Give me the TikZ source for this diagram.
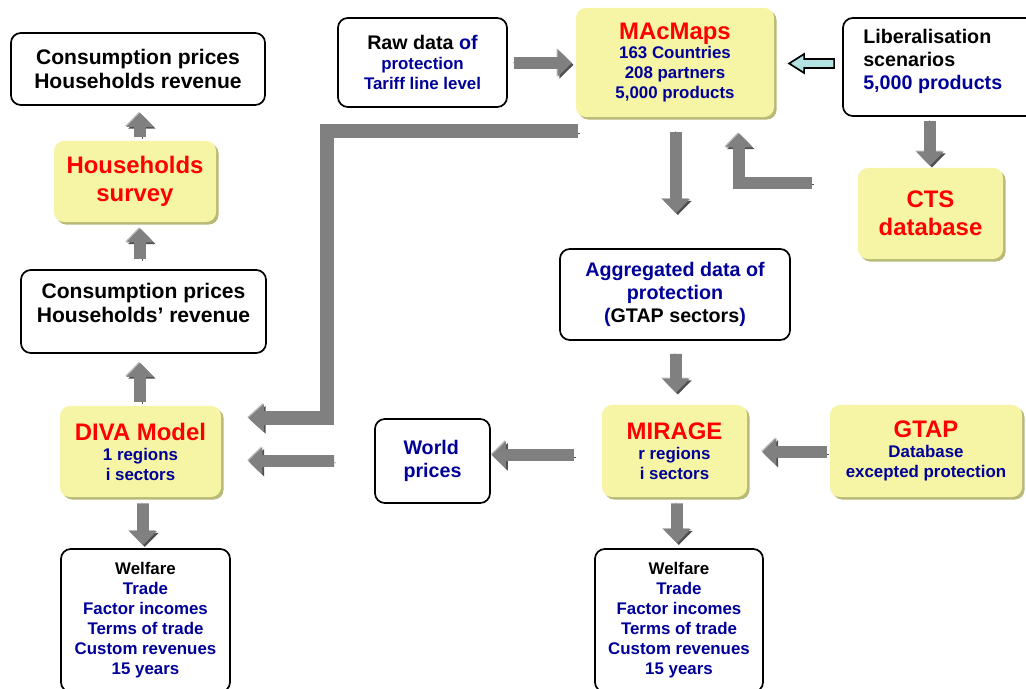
\documentclass[tikz,border=0pt]{standalone}
\usepackage{fontspec}
\setmainfont{Liberation Sans}
\usetikzlibrary{arrows.meta,calc,shadows}

\definecolor{boxyellow}{RGB}{245,245,165}
\definecolor{boxshade}{RGB}{185,185,120}
\definecolor{titlered}{RGB}{255,0,0}
\definecolor{textblue}{RGB}{0,0,153}
\definecolor{arrowgray}{RGB}{128,128,128}
\definecolor{arrowshade}{RGB}{80,80,80}
\definecolor{arrowlight}{RGB}{185,185,185}
\definecolor{arrowcyan}{RGB}{180,225,225}

\newcommand\titlesize{\fontsize{17}{19.6}\selectfont}
\newcommand\headsize{\fontsize{15}{17.7}\selectfont}
\newcommand\midsize{\fontsize{14}{16.4}\selectfont}
\newcommand\subsize{\fontsize{12}{14.2}\selectfont}

\tikzset{
  plainbox/.style={draw, line width=1.2pt, rounded corners=7pt, fill=white, align=center, inner sep=0pt},
  yellowbox/.style={fill=boxyellow, rounded corners=7pt, align=center, inner sep=0pt,
    drop shadow={shadow xshift=1.8pt, shadow yshift=-1.8pt, fill=boxshade, opacity=1}},
  boxtext/.style={font=\bfseries\subsize, text=textblue},
  redtitle/.style={font=\bfseries\titlesize, text=titlered},
  blockarrow/.style={line width=8.5pt, draw=arrowgray, -{Triangle[length=10pt,width=19pt]},
    preaction={draw=arrowshade, transform canvas={xshift=1.3pt,yshift=-1.3pt}},
    preaction={draw=arrowlight, transform canvas={xshift=-0.7pt,yshift=0.7pt}}},
  bigarrow/.style={line width=10pt, -{Triangle[length=11pt,width=19pt]}},
  cyanarrow/.style={draw=black, line width=1.2pt, fill=arrowcyan, line join=miter}
}

\begin{document}
\begin{tikzpicture}[x=0.025cm, y=-0.025cm]
\useasboundingbox (0,0) rectangle (1026,689);

% left column
\node[plainbox, minimum width=6.35cm, minimum height=1.8cm, font=\bfseries\headsize] (hhrev) at (138,69) {Consumption prices\\Households revenue};
\node[yellowbox, redtitle, minimum width=4.05cm, minimum height=2.025cm] (hhsurvey) at (135,181.5) {Households\\survey};
\node[plainbox, minimum width=6.125cm, minimum height=2.075cm] (hhrev2) at (143.5,311.5) {};
\node[font=\bfseries\headsize, align=center] (hhrev2text) at (143.5,303) {Consumption prices\\Households' revenue};
\node[yellowbox, boxtext, minimum width=4.025cm, minimum height=2.275cm] (diva) at (140.5,451.5) {{\titlesize\textcolor{titlered}{DIVA Model}}\\1 regions\\i sectors};
\node[plainbox, boxtext, minimum width=4.225cm, minimum height=3.575cm] (welfare1) at (145.5,620.5) {\textcolor{black}{Welfare}\\Trade\\Factor incomes\\Terms of trade\\Custom revenues\\15 years};

% top row
\node[plainbox, boxtext, minimum width=4.225cm, minimum height=2.225cm] (rawdata) at (422.5,62.5) {{\fontsize{14}{16}\selectfont\textcolor{black}{Raw data} of}\\protection\\Tariff line level};
\node[yellowbox, boxtext, minimum width=4.95cm, minimum height=2.725cm] (macmaps) at (675,62.5) {{\titlesize\textcolor{titlered}{MAcMaps}}\\163 Countries\\208 partners\\5,000 products};
\node[plainbox, minimum width=4.925cm, minimum height=2.45cm] (libscen) at (941.5,67) {};
\node[font=\bfseries\midsize, align=left, anchor=north west, inner sep=0pt] (libscentext) at (863,29) {Liberalisation\\scenarios\\\textcolor{textblue}{5,000 products}};
\node[yellowbox, redtitle, minimum width=3.625cm, minimum height=2.275cm] (cts) at (930.5,213.5) {CTS\\database};

% middle column
\node[plainbox, font=\bfseries\midsize, text=textblue, minimum width=5.75cm, minimum height=2.275cm] (aggr) at (675,294.5) {Aggregated data of\\protection\\(\textcolor{black}{GTAP sectors})};
\node[yellowbox, boxtext, minimum width=3.625cm, minimum height=2.3cm] (mirage) at (674.5,451) {{\titlesize\textcolor{titlered}{MIRAGE}}\\r regions\\i sectors};
\node[yellowbox, boxtext, minimum width=4.8cm, minimum height=2.3cm] (gtap) at (926,451) {{\titlesize\textcolor{titlered}{GTAP}}\\Database\\excepted protection};
\node[plainbox, font=\bfseries\midsize, text=textblue, align=left, minimum width=2.875cm, minimum height=2.1cm] (world) at (432.5,461) {World\\prices};
\node[plainbox, boxtext, minimum width=4.2cm, minimum height=3.575cm] (welfare2) at (679,620.5) {\textcolor{black}{Welfare}\\Trade\\Factor incomes\\Terms of trade\\Custom revenues\\15 years};

% arrows
\draw[blockarrow] ($(hhsurvey.north)+(5,-4)$) -- ($(hhrev.south)+(2,7)$);
\draw[blockarrow] ($(hhrev2.north)+(-3.5,-10)$) -- ($(hhsurvey.south)+(5,6)$);
\draw[blockarrow] ($(diva.north)+(-0.5,-4)$) -- ($(hhrev2.south)+(-3.5,9)$);
\draw[blockarrow] ($(diva.south)+(2.5,6)$) -- ($(welfare1.north)+(-2.5,-3)$);
\draw[blockarrow] ($(rawdata.east)+(6,0.5)$) -- ($(macmaps.west)+(-4,0.5)$);
\draw[cyanarrow] ($(libscen.west)+(-8,-8)$) -- ++(-30,0) -- ++(0,-5) -- ++(-15,9.5) -- ++(15,9.5) -- ++(0,-5) -- ++(30,0) -- cycle;
\draw[blockarrow] ($(libscen.south)+(-11.5,4)$) -- ($(cts.north)+(-0.5,-2)$);
\coordinate (ctsfeed) at ($(cts.north west)+(-46,15)$);
\draw[blockarrow] (ctsfeed) -| ($(macmaps.south)+(64,16)$);
\draw[blockarrow] ($(macmaps.south)+(1,15)$) -- ($(aggr.north)+(1,-35)$);
\draw[blockarrow] ($(aggr.south)+(1,13)$) -- ($(mirage.north)+(1.5,-12)$);
\draw[blockarrow] ($(gtap.west)+(-3,1)$) -- ($(mirage.east)+(15,1)$);
\draw[blockarrow] ($(mirage.west)+(-28,4)$) -- ($(world.east)+(1,-6)$);
\draw[blockarrow] ($(world.west)+(-40,0)$) -- ($(diva.east)+(27,9.5)$);
\draw[blockarrow] ($(mirage.south)+(2.5,6)$) -- ($(welfare2.north)+(-2,-5)$);
\coordinate (mapfeed) at ($(macmaps.south west)+(2,14)$);
\draw[blockarrow, bigarrow] (mapfeed) -- ++(-251,0) |- ($(diva.east)+(27,-33.5)$);
\end{tikzpicture}
\end{document}
